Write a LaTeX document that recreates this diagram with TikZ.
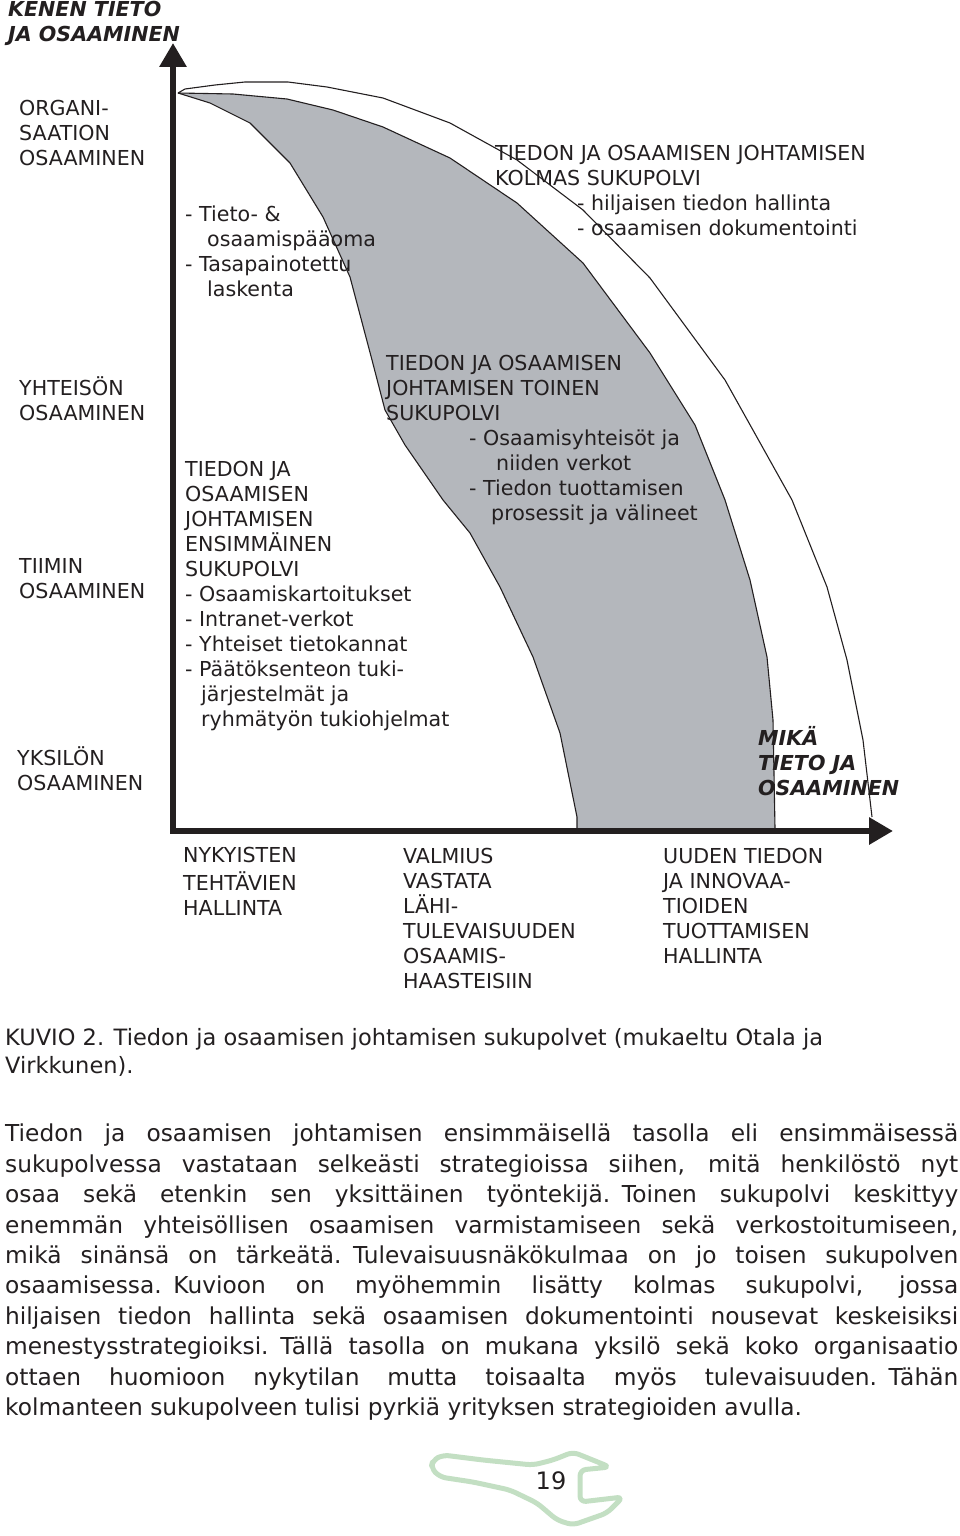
\documentclass[tikz,border=0pt]{standalone}
\usepackage{fontspec}
\setmainfont{DejaVu Sans}
\usetikzlibrary{arrows.meta}
\definecolor{ink}{HTML}{231F20}
\definecolor{band}{HTML}{B4B7BC}
\definecolor{wrench}{HTML}{C3DFC3}
\tikzset{
  txt/.style={anchor=north west,inner sep=0pt,align=left,text=ink,font=\fontsize{20.6}{25}\selectfont},
  head/.style={txt,font=\fontsize{20.6}{25}\selectfont\bfseries\itshape},
  axis/.style={draw=ink,line width=6pt,-{Triangle[length=24pt,width=26pt]}},
  curve/.style={draw=ink,line width=1.1pt},
  faint/.style={draw=black!10,line width=1pt,dotted}
}
\newcommand{\jl}[1]{\hbox to 953pt{\spaceskip=.318em plus 1fil minus .1em\relax #1}}
\newcommand{\nl}[1]{\hbox{\spaceskip=.318em plus .1em minus .1em\relax #1}}
\begin{document}
\begin{tikzpicture}[x=1pt,y=-1pt]
\useasboundingbox (0,0) rectangle (960,1536);
\def\outerc{(178,93) -- (185,89) -- (215,85) -- (245,82) -- (288,82) -- (327,87) -- (383,98) -- (450,123) -- (517,160) -- (583,210) -- (650,278) -- (725,380) -- (792,500) -- (827,587) -- (847,660) -- (863,740) -- (872,817)}
% band
\fill[band] (178,93) -- (233,94) -- (287,99) -- (333,110) -- (383,127) -- (450,158) -- (517,203) -- (583,263) -- (650,353) -- (695,425) -- (725,500) -- (750,580) -- (767,657) -- (773,720) -- (775,828)
 -- (577,828) -- (577,817) -- (560,733) -- (533,657) -- (500,587) -- (470,533) -- (443,500) -- (405,445) -- (385,410) -- (372,360) -- (350,277) -- (323,217) -- (290,163) -- (250,123) -- (210,103) -- cycle;
\draw[curve] (178,93) -- (233,94) -- (287,99) -- (333,110) -- (383,127) -- (450,158) -- (517,203) -- (583,263) -- (650,353) -- (695,425) -- (725,500) -- (750,580) -- (767,657) -- (773,720) -- (775,828);
\draw[curve] (178,93) -- (210,103) -- (250,123) -- (290,163) -- (323,217) -- (350,277) -- (372,360) -- (385,410) -- (405,445) -- (443,500) -- (470,533) -- (500,587) -- (533,657) -- (560,733) -- (577,817) -- (577,828);
\draw[curve] \outerc;
% axes
\coordinate (origin) at (173,831);
\coordinate (ytip) at (173,43);
\coordinate (xtip) at (893,831);
\draw[axis] (origin) -- (ytip);
\draw[axis] (170,831) -- (xtip);
% wrench
\draw[wrench,line width=5pt,line join=round,rounded corners=6pt] (431,1468) -- (433,1460) -- (443,1455) -- (483,1460) -- (533,1465) -- (553,1460) -- (573,1452) -- (610,1467) -- (580,1470) -- (580,1502) -- (623,1497) -- (607,1513) -- (573,1525) -- (557,1520) -- (537,1503) -- (510,1490) -- (473,1482) -- (440,1477) -- cycle;
% texts
\node[head] (t1) at (8,-1) {\strut KENEN TIETO\\JA OSAAMINEN};
\node[txt] (t2) at (19,98) {\strut ORGANI-\\SAATION\\OSAAMINEN};
\node[txt] (t3) at (185,204) {\strut - Tieto- \&\\\hspace*{22pt}osaamispääoma\\- Tasapainotettu\\\hspace*{22pt}laskenta};
\node[txt] (t4) at (495,143) {\strut TIEDON JA OSAAMISEN JOHTAMISEN\\KOLMAS SUKUPOLVI};
\node[txt] (t5) at (577,193) {\strut - hiljaisen tiedon hallinta\\- osaamisen dokumentointi};
\node[txt] (t6) at (19,376) {\strut YHTEISÖN\\OSAAMINEN};
\node[txt] (t7) at (19,556) {\strut TIIMIN\\OSAAMINEN};
\node[txt] (t8) at (17,746) {\strut YKSILÖN\\OSAAMINEN};
\node[txt] (t9) at (185,459) {\strut TIEDON JA\\OSAAMISEN\\JOHTAMISEN\\ENSIMMÄINEN\\SUKUPOLVI\\- Osaamiskartoitukset\\- Intranet-verkot\\- Yhteiset tietokannat\\- Päätöksenteon tuki-\\\hspace*{16pt}järjestelmät ja\\\hspace*{16pt}ryhmätyön tukiohjelmat};
\node[txt] (t10) at (386,353) {\strut TIEDON JA OSAAMISEN\\JOHTAMISEN TOINEN\\SUKUPOLVI};
\node[txt] (t11) at (469,428) {\strut - Osaamisyhteisöt ja\\\hspace*{27pt}niiden verkot\\- Tiedon tuottamisen\\\hspace*{22pt}prosessit ja välineet};
\node[head] (t12) at (758,726) {\strut MIKÄ\\TIETO JA\\OSAAMINEN};
\node[txt] (t13) at (183,845) {\strut NYKYISTEN\\TEHTÄVIEN\\HALLINTA};
\node[txt] (t14) at (403,846) {\strut VALMIUS\\VASTATA\\LÄHI-\\TULEVAISUUDEN\\OSAAMIS-\\HAASTEISIIN};
\node[txt] (t15) at (663,846) {\strut UUDEN TIEDON\\JA INNOVAA-\\TIOIDEN\\TUOTTAMISEN\\HALLINTA};
\node[txt,font=\fontsize{22.5}{28}\selectfont] (cap) at (5,1026) {\strut KUVIO 2. Tiedon ja osaamisen johtamisen sukupolvet (mukaeltu Otala ja\\Virkkunen).};
\node[anchor=north west,inner sep=0pt,text width=953pt,text=ink,font=\fontsize{23.3}{30.4}\selectfont] (body) at (5,1124) {%
\jl{Tiedon ja osaamisen johtamisen ensimmäisellä tasolla eli ensimmäisessä}
\jl{sukupolvessa vastataan selkeästi strategioissa siihen, mitä henkilöstö nyt}
\jl{osaa sekä etenkin sen yksittäinen työntekijä. Toinen sukupolvi keskittyy}
\jl{enemmän yhteisöllisen osaamisen varmistamiseen sekä verkostoitumiseen,}
\jl{mikä sinänsä on tärkeätä. Tulevaisuusnäkökulmaa on jo toisen sukupolven}
\jl{osaamisessa. Kuvioon on myöhemmin lisätty kolmas sukupolvi, jossa}
\jl{hiljaisen tiedon hallinta sekä osaamisen dokumentointi nousevat keskeisiksi}
\jl{menestysstrategioiksi. Tällä tasolla on mukana yksilö sekä koko organisaatio}
\jl{ottaen huomioon nykytilan mutta toisaalta myös tulevaisuuden. Tähän}
\nl{kolmanteen sukupolveen tulisi pyrkiä yrityksen strategioiden avulla.}};
\node[txt,anchor=center,font=\fontsize{24}{28}\selectfont] (page) at (551,1481) {19};
\end{tikzpicture}
\end{document}
